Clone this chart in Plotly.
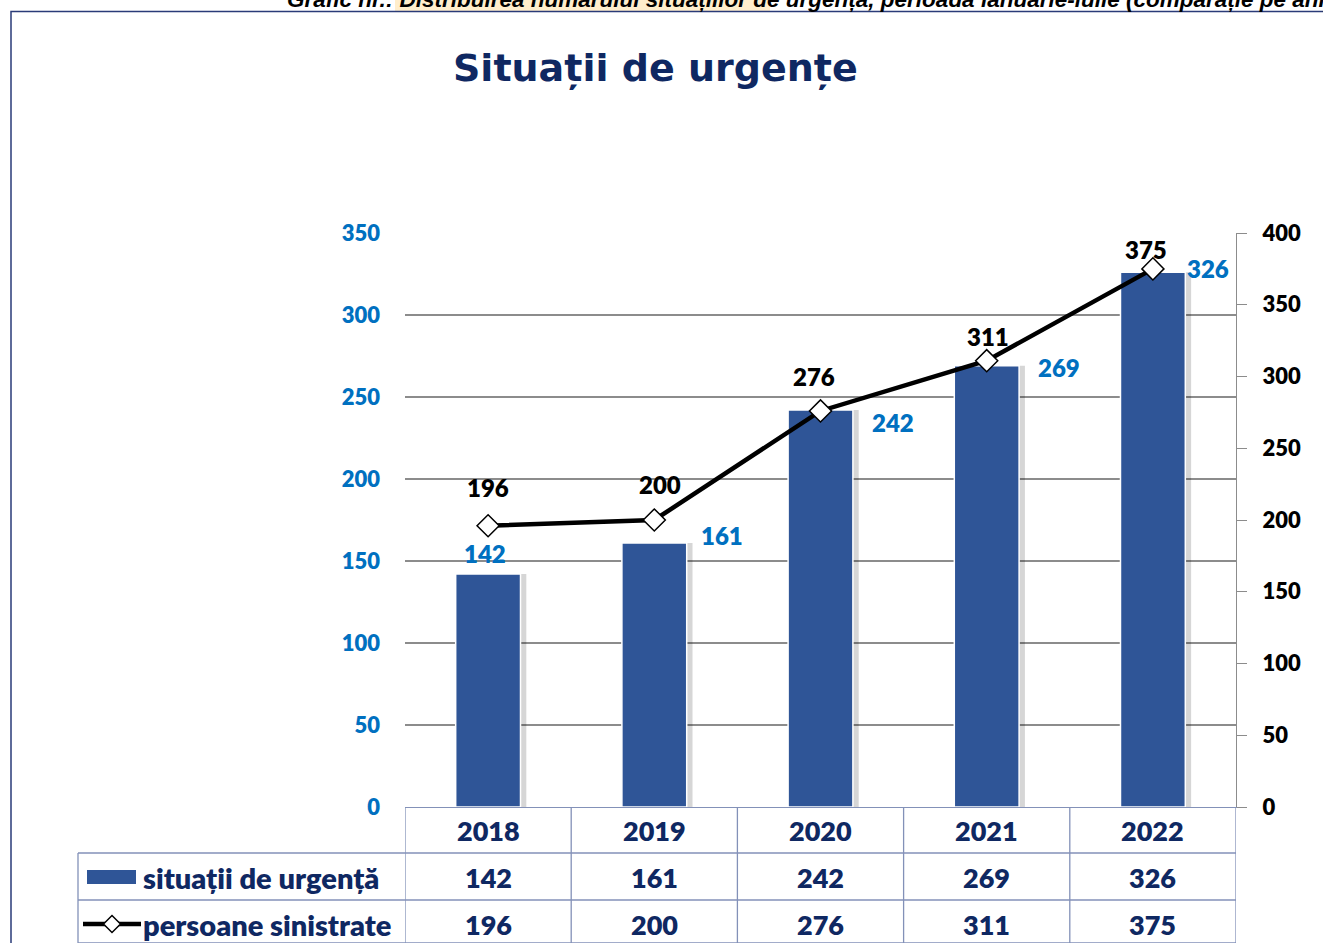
import plotly.graph_objects as go

# ---------------- data ----------------
years = ["2018", "2019", "2020", "2021", "2022"]
situatii = [142, 161, 242, 269, 326]
persoane = [196, 200, 276, 311, 375]
series_names = ["situații de urgență", "persoane sinistrate"]
title_text = "Situații de urgențe"
caption_text = "Grafic nr.: Distribuirea numărului situațiilor de urgență, perioada ianuarie-iulie (comparație pe ani)"
left_ticks = [0, 50, 100, 150, 200, 250, 300, 350]
right_ticks = [0, 50, 100, 150, 200, 250, 300, 350, 400]

# ---------------- layout helpers ----------------
W, H = 1323, 943
L, R, T, B = 405, 1236, 233, 807


def px(x):
    return (x - L) / (R - L)


def py(y):
    return (B - y) / (B - T)


FONT = "Lato, 'Open Sans', sans-serif"
TFONT = "'DejaVu Sans', Verdana, sans-serif"
NAVY = "#0f2862"
BLUE_TXT = "#0070C0"
BAR = "#2F5597"
GRID = "#8c8c8c"
TABLE = "#8391b8"
WT = 800

# label offsets (pixels) for the Excel-placed data labels
bar_label_shift = [(-3, 21), (68, 7), (72, -12), (72, -2), (55, 4)]
line_label_shift = [(0, 38), (6, 36), (-7, 34), (1, 24), (-7, 19)]

xi = list(range(len(years)))

fig = go.Figure()

# bar shadow
fig.add_trace(go.Bar(
    x=xi, y=situatii, width=0.39, offset=-0.195 + 0.035,
    marker=dict(color="rgba(0,0,0,0.16)", line=dict(width=0)),
    hoverinfo="skip", showlegend=False,
))
# bars
fig.add_trace(go.Bar(
    x=xi, y=situatii, width=0.39, offset=-0.195,
    marker=dict(color=BAR, line=dict(color="white", width=1.5)),
    name=series_names[0], showlegend=False, hovertext=years,
))
# line
fig.add_trace(go.Scatter(
    x=xi, y=persoane, yaxis="y2", mode="lines+markers",
    line=dict(color="black", width=4.5),
    marker=dict(symbol="diamond", size=17, color="white",
                line=dict(color="black", width=1.5)),
    name=series_names[1], showlegend=False, hovertext=years,
))

annotations = []
# bar labels
for i, v in enumerate(situatii):
    dx, dy = bar_label_shift[i]
    annotations.append(dict(
        x=i, y=v, xref="x", yref="y", text=f"{v}", showarrow=False,
        xshift=dx, yshift=dy, yanchor="middle",
        font=dict(family=FONT, size=24, color=BLUE_TXT, weight=WT)))
# line labels
for i, v in enumerate(persoane):
    dx, dy = line_label_shift[i]
    annotations.append(dict(
        x=i, y=v, xref="x", yref="y2", text=f"{v}", showarrow=False,
        xshift=dx, yshift=dy, yanchor="middle",
        font=dict(family=FONT, size=24, color="black", weight=WT)))

# title
annotations.append(dict(
    x=px(655), y=py(68), xref="paper", yref="paper", text=title_text,
    showarrow=False, xanchor="center", yanchor="middle",
    font=dict(family=TFONT, size=38, color=NAVY, weight="bold")))

# caption (cut off at top edge)
annotations.append(dict(
    x=px(285), y=py(-1), xref="paper", yref="paper", text=f"<i>{caption_text}</i>",
    showarrow=False, xanchor="left", yanchor="middle",
    font=dict(family="Liberation Sans, Arial, sans-serif", size=22.5, color="black",
              weight="bold")))

# data table
row_y = [830, 877, 924]
for i, yr in enumerate(years):
    annotations.append(dict(
        x=i, y=py(row_y[0]), xref="x", yref="paper", text=yr,
        showarrow=False, yanchor="middle",
        font=dict(family=FONT, size=27, color=NAVY, weight=WT)))
for i, v in enumerate(situatii):
    annotations.append(dict(
        x=i, y=py(row_y[1]), xref="x", yref="paper", text=f"{v}",
        showarrow=False, yanchor="middle",
        font=dict(family=FONT, size=27, color=NAVY, weight=WT)))
for i, v in enumerate(persoane):
    annotations.append(dict(
        x=i, y=py(row_y[2]), xref="x", yref="paper", text=f"{v}",
        showarrow=False, yanchor="middle",
        font=dict(family=FONT, size=27, color=NAVY, weight=WT)))
for name, ry in zip(series_names, row_y[1:]):
    annotations.append(dict(
        x=px(141), y=py(ry), xref="paper", yref="paper", text=name,
        showarrow=False, xanchor="left", yanchor="middle",
        font=dict(family=FONT, size=29, color=NAVY, weight=WT)))

shapes = []
# caption highlight
shapes.append(dict(type="rect", xref="paper", yref="paper",
                   x0=px(395), x1=px(770), y0=py(12), y1=py(-2),
                   fillcolor="rgba(255,205,110,0.35)", line=dict(width=0), layer="below"))
# chart border
shapes.append(dict(type="rect", xref="paper", yref="paper",
                   x0=px(11), x1=px(1340), y0=py(960), y1=py(11.5),
                   line=dict(color="#2a3b78", width=1.5), fillcolor="rgba(0,0,0,0)"))
# table horizontal lines
for yy in [853, 900, 943]:
    shapes.append(dict(type="line", xref="paper", yref="paper",
                       x0=px(78), x1=px(R), y0=py(yy), y1=py(yy),
                       line=dict(color=TABLE, width=1.3)))
# table vertical lines at category boundaries
for k in range(len(years) + 1):
    shapes.append(dict(type="line", xref="x", yref="paper",
                       x0=k - 0.5, x1=k - 0.5, y0=py(807), y1=py(950),
                       line=dict(color=TABLE, width=1.3)))
shapes.append(dict(type="line", xref="paper", yref="paper",
                   x0=px(78), x1=px(78), y0=py(853), y1=py(950),
                   line=dict(color=TABLE, width=1.3)))
# legend keys
shapes.append(dict(type="rect", xref="paper", yref="paper",
                   x0=px(87), x1=px(136), y0=py(884), y1=py(870),
                   fillcolor=BAR, line=dict(width=0)))
shapes.append(dict(type="line", xref="paper", yref="paper",
                   x0=px(83), x1=px(141), y0=py(924), y1=py(924),
                   line=dict(color="black", width=4.5)))
cx, cy, hs = 112, 924, 8.5
path = (f"M {px(cx - hs)} {py(cy)} L {px(cx)} {py(cy - hs)} "
        f"L {px(cx + hs)} {py(cy)} L {px(cx)} {py(cy + hs)} Z")
shapes.append(dict(type="path", xref="paper", yref="paper", path=path,
                   fillcolor="white", line=dict(color="black", width=1.5)))

fig.update_layout(
    width=W, height=H,
    margin=dict(l=L, r=W - R, t=T, b=H - B, pad=0),
    paper_bgcolor="white", plot_bgcolor="white",
    barmode="overlay",
    showlegend=False,
    xaxis=dict(type="linear", range=[-0.5, len(years) - 0.5],
               showticklabels=False, ticks="", showgrid=False,
               showline=True, linecolor=TABLE, linewidth=1.3, zeroline=False),
    yaxis=dict(range=[0, 350], tickvals=left_ticks, showgrid=True, gridcolor=GRID,
               gridwidth=1.5, zeroline=False, showline=False, ticks="",
               ticklabelstandoff=24,
               tickfont=dict(family=FONT, size=22, color=BLUE_TXT, weight=WT)),
    yaxis2=dict(range=[0, 400], tickvals=right_ticks, overlaying="y", side="right",
                showgrid=False, zeroline=False, showline=True, linecolor=GRID,
                linewidth=1.3, ticks="outside", ticklen=10, tickcolor=GRID,
                tickwidth=1.3, ticklabelstandoff=11,
                tickfont=dict(family=FONT, size=22, color="black", weight=WT)),
    annotations=annotations,
    shapes=shapes,
)

fig.write_html("out.html", config={"displayModeBar": False},
               post_script="document.body.style.margin='0';document.body.style.overflow='hidden';")
